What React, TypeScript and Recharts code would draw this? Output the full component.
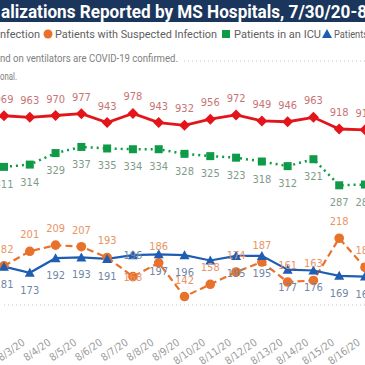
import { LineChart, Line, XAxis, YAxis, CartesianGrid, LabelList } from 'recharts'

// visible window of the daily report, 8/2 - 8/16
const dates = ['8/2/20', '8/3/20', '8/4/20', '8/5/20', '8/6/20', '8/7/20', '8/8/20', '8/9/20', '8/10/20', '8/11/20', '8/12/20', '8/13/20', '8/14/20', '8/15/20', '8/16/20']
const confirmed = [969, 963, 970, 977, 943, 978, 943, 932, 956, 972, 949, 946, 963, 918, 915]
const suspected = [182, 201, 209, 207, 193, 168, 186, 142, 158, 174, 187, 161, 163, 218, 180]
const icu = [311, 314, 329, 337, 335, 334, 334, 328, 325, 323, 318, 312, 321, 287, 288]
const ventilators = [181, 173, 192, 193, 191, 196, 197, 196, 189, 195, 195, 177, 176, 169, 168]

const data = dates.map((date, i) => ({
  date,
  confirmed: confirmed[i],
  suspected: suspected[i],
  icu: icu[i],
  ventilators: ventilators[i],
}))

const RED = '#e3151b'
const ORANGE = '#e8712b'
const GREEN = '#0f9a48'
const BLUE = '#1f5db3'
const LABEL_FONT = '"Liberation Sans Narrow", "DejaVu Sans Condensed", sans-serif'

// labels that Power BI moved or dropped to avoid overlaps
const labelOverrides: Record<string, Record<number, string>> = {
  suspected: { 5: 'center' },
  ventilators: { 5: 'center', 8: 'hide' },
}

const makeLabel = (color: string, place: string, overrides: Record<number, string> = {}) => (props: any) => {
  const x = props.x ?? props.viewBox?.x
  const y = props.y ?? props.viewBox?.y
  const pos = overrides[props.index] ?? place
  if (pos === 'hide' || x == null) return null
  const dy = pos === 'top' ? -13 : pos === 'bottom' ? 21 : 4
  return (
    <text x={x} y={y + dy} textAnchor="middle" fill={color} fontSize={11} fontFamily={LABEL_FONT}>
      {props.value}
    </text>
  )
}

const diamondDot = (p: any) => {
  const { cx, cy } = p
  const s = 5.5
  return <path key={`dm-${p.index}`} d={`M${cx},${cy - s}L${cx + s},${cy}L${cx},${cy + s}L${cx - s},${cy}Z`} fill={RED} />
}
const squareDot = (p: any) => <rect key={`sq-${p.index}`} x={p.cx - 4} y={p.cy - 4} width={8} height={8} fill={GREEN} />
const circleDot = (p: any) => <circle key={`ci-${p.index}`} cx={p.cx} cy={p.cy} r={4.8} fill={ORANGE} />
const triangleDot = (p: any) => (
  <path key={`tr-${p.index}`} d={`M${p.cx},${p.cy - 5}L${p.cx + 5},${p.cy + 4}L${p.cx - 5},${p.cy + 4}Z`} fill={BLUE} />
)

const DateTick = ({ x, y, payload }: any) => {
  const ax = x - 4
  const ay = y + 31
  return (
    <text x={ax} y={ay} textAnchor="end" transform={`rotate(-35 ${ax} ${ay})`} fill="#9a9a9a" fontSize={10.5} fontFamily={LABEL_FONT}>
      {payload.value}
    </text>
  )
}

function Header() {
  const txt = { fill: '#606060', fontSize: 11.5, fontFamily: 'Roboto, sans-serif' }
  return (
    <svg width={365} height={90} style={{ position: 'absolute', left: 0, top: 0 }}>
      <rect x={0} y={0} width={365} height={22} fill="#1b365d" />
      <text x={1} y={18} fill="#fff" fontSize={18} fontWeight={700} fontFamily="Roboto, sans-serif" textLength={366} lengthAdjust="spacingAndGlyphs">
        alizations Reported by MS Hospitals, 7/30/20-8
      </text>
      <text x={0} y={38} {...txt} textLength={40} lengthAdjust="spacingAndGlyphs">nfection</text>
      <circle cx={48} cy={34} r={4.5} fill={ORANGE} />
      <text x={55} y={38} {...txt} textLength={162} lengthAdjust="spacingAndGlyphs">Patients with Suspected Infection</text>
      <rect x={222} y={30} width={8} height={8} fill={GREEN} />
      <text x={234} y={38} {...txt} textLength={87} lengthAdjust="spacingAndGlyphs">Patients in an ICU</text>
      <path d="M327,29L332,38L322,38Z" fill={BLUE} />
      <text x={334} y={38} {...txt} textLength={34} lengthAdjust="spacingAndGlyphs">Patients</text>
      <rect x={0} y={52} width={182} height={30} fill="#fff" />
      <text x={0} y={62} fill="#808080" fontSize={10.5} fontFamily="Roboto, sans-serif" textLength={178} lengthAdjust="spacingAndGlyphs">
        nd on ventilators are COVID-19 confirmed.
      </text>
      <text x={0} y={80} fill="#808080" fontSize={10.5} fontFamily="Roboto, sans-serif" textLength={17} lengthAdjust="spacingAndGlyphs">
        onal.
      </text>
    </svg>
  )
}

export default function App() {
  return (
    <div style={{ position: 'absolute', left: 0, top: 0, width: 365, height: 365, overflow: 'hidden', background: '#fff' }}>
      <LineChart width={365} height={365} data={data} margin={{ top: 61, right: 0, left: 4, bottom: 0 }} style={{ position: 'absolute', left: 0, top: 0 }}>
        <YAxis yAxisId="grid" domain={[0, 5]} ticks={[0, 1, 2, 3, 4, 5]} hide />
        <YAxis yAxisId="left" domain={[131, 449]} hide />
        <YAxis yAxisId="right" domain={[240, 1180]} hide />
        <CartesianGrid yAxisId="grid" vertical={false} stroke="#c4c4c4" strokeDasharray="1 3" />
        <XAxis dataKey="date" scale="point" interval={0} height={60} axisLine={false} tickLine={false} tick={<DateTick />} />
        <Line yAxisId="right" dataKey="confirmed" stroke={RED} strokeWidth={2.8} dot={diamondDot} activeDot={false} isAnimationActive={false}>
          <LabelList dataKey="confirmed" content={makeLabel('#c77474', 'top')} />
        </Line>
        <Line yAxisId="left" dataKey="suspected" stroke={ORANGE} strokeWidth={2.2} strokeDasharray="7 4" dot={circleDot} activeDot={false} isAnimationActive={false}>
          <LabelList dataKey="suspected" content={makeLabel('#e99466', 'top', labelOverrides.suspected)} />
        </Line>
        <Line yAxisId="left" dataKey="icu" stroke={GREEN} strokeWidth={2.5} strokeDasharray="2 4" dot={squareDot} activeDot={false} isAnimationActive={false}>
          <LabelList dataKey="icu" content={makeLabel('#7f9c8a', 'bottom')} />
        </Line>
        <Line yAxisId="left" dataKey="ventilators" stroke={BLUE} strokeWidth={2.2} dot={triangleDot} activeDot={false} isAnimationActive={false}>
          <LabelList dataKey="ventilators" content={makeLabel('#7186a6', 'bottom', labelOverrides.ventilators)} />
        </Line>
      </LineChart>
      <Header />
    </div>
  )
}
